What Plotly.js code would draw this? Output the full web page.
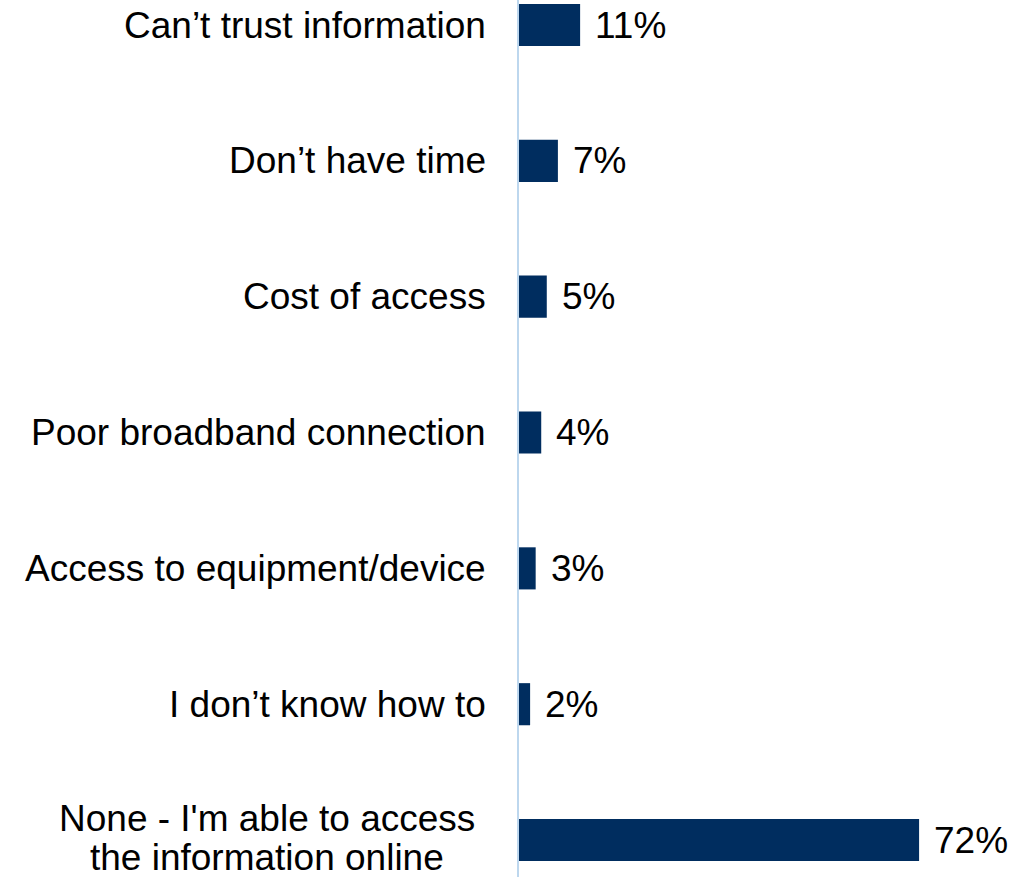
<!DOCTYPE html>
<html>
<head>
<meta charset="utf-8">
<script src="https://cdn.plot.ly/plotly-3.0.1.min.js"></script>
<style>html,body{margin:0;padding:0;background:#fff;}#chart{width:1033px;height:877px;}</style>
</head>
<body>
<div id="chart"></div>
<script>
const categories = [
  "Can\u2019t trust information",
  "Don\u2019t have time",
  "Cost of access",
  "Poor broadband connection",
  "Access to equipment/device",
  "I don\u2019t know how to",
  "None - I'm able to access<br>the information online"
];
const values = [11, 7, 5, 4, 3, 2, 72];
const valueLabels = values.map(v => v + "%");

const FONT = "Liberation Sans, Arial, sans-serif";
const LABEL_SIZE = 37;
const idx = categories.map((c, i) => i);

const trace = {
  type: "bar",
  orientation: "h",
  x: values,
  y: idx,
  width: 0.31,
  marker: {color: "#002D5F"},
  hoverinfo: "skip"
};

const annotations = [];
categories.forEach((c, i) => {
  const lines = c.split("<br>");
  if (lines.length === 1) {
    annotations.push({
      xref: "paper", yref: "y", x: 0, y: i,
      text: c, showarrow: false, xanchor: "right", yanchor: "middle",
      xshift: -31,
      font: {family: FONT, size: LABEL_SIZE, color: "#000"}
    });
  } else {
    const n = lines.length;
    lines.forEach((ln, k) => {
      annotations.push({
        xref: "paper", yref: "y", x: 0, y: i,
        text: ln, showarrow: false, xanchor: "center", yanchor: "middle",
        xshift: -252, yshift: ((n - 1) / 2 - k) * 39 + 2,
        font: {family: FONT, size: LABEL_SIZE, color: "#000"}
      });
    });
  }
  annotations.push({
    xref: "x", yref: "y", x: values[i], y: i,
    text: valueLabels[i], showarrow: false, xanchor: "left", yanchor: "middle",
    xshift: 13,
    font: {family: FONT, size: LABEL_SIZE, color: "#000"}
  });
});

const layout = {
  width: 1033, height: 877,
  margin: {l: 519, r: 0, t: 0, b: 0, pad: 0},
  paper_bgcolor: "#fff", plot_bgcolor: "#fff",
  showlegend: false,
  xaxis: {range: [0, 92.5], showgrid: false, zeroline: false, showline: false, showticklabels: false, ticks: ""},
  yaxis: {range: [6.272, -0.184], showgrid: false, zeroline: false, showline: true,
          linecolor: "#BDD7EE", linewidth: 2, showticklabels: false, ticks: ""},
  annotations: annotations,
  font: {family: FONT}
};

Plotly.newPlot("chart", [trace], layout, {displayModeBar: false, staticPlot: true});
</script>
</body>
</html>
